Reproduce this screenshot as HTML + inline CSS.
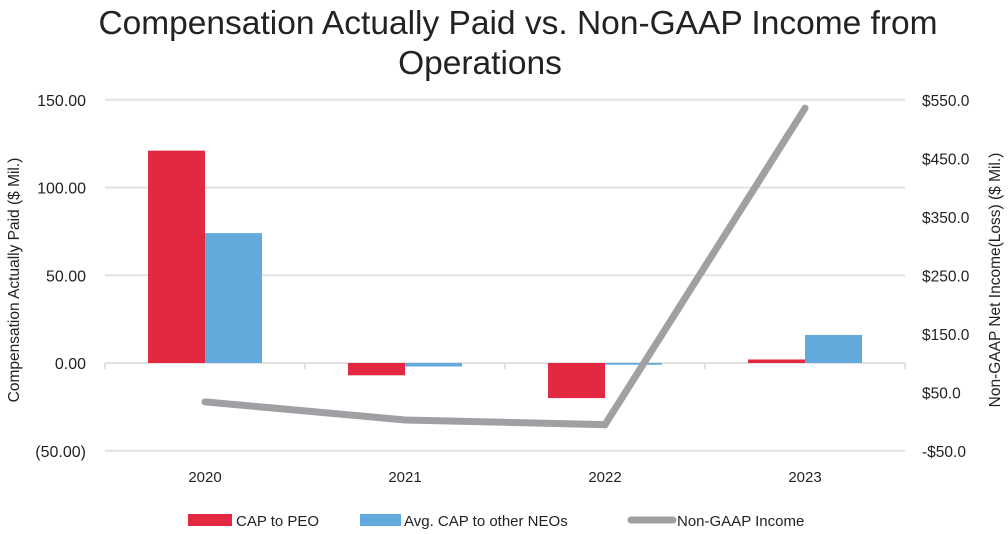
<!DOCTYPE html>
<html><head><meta charset="utf-8"><style>
body{margin:0;background:#fff;}
svg{display:block;font-family:"Liberation Sans",sans-serif;}
</style></head><body>
<svg id="c" width="1008" height="534">
<text x="518" y="34" text-anchor="middle" font-size="33.5" fill="#222">Compensation Actually Paid vs. Non-GAAP Income from</text>
<text x="480" y="74" text-anchor="middle" font-size="33.5" fill="#222">Operations</text>
<text transform="translate(19,280) rotate(-90)" text-anchor="middle" font-size="15.5" fill="#222">Compensation Actually Paid ($ Mil.)</text>
<text transform="translate(1000,280) rotate(-90)" text-anchor="middle" font-size="15.5" fill="#222">Non-GAAP Net Income(Loss) ($ Mil.)</text>
<g id="grid"></g><g id="bars"></g><g id="line"></g><g id="labels"></g>
<g>
<rect x="188" y="514" width="44" height="12" fill="#e32941"/>
<text x="236" y="526" font-size="15" fill="#222">CAP to PEO</text>
<rect x="360" y="514" width="41" height="12" fill="#62a9dc"/>
<text x="404" y="526" font-size="15" fill="#222">Avg. CAP to other NEOs</text>
<line x1="631" y1="520" x2="673" y2="520" stroke="#a0a0a4" stroke-width="7" stroke-linecap="round"/>
<text x="677" y="526" font-size="15" fill="#222">Non-GAAP Income</text>
</g>
</svg>
<script>
const categories=["2020","2021","2022","2023"];
const capPeo=[121,-7,-20,2];
const capNeo=[74,-2,-1,16];
const income=[34,3,-5,536];
const leftTicks=[150,100,50,0,-50];
const leftTickLabels=["150.00","100.00","50.00","0.00","(50.00)"];
const rightTicks=[550,450,350,250,150,50,-50];
const rightTickLabels=["$550.0","$450.0","$350.0","$250.0","$150.0","$50.0","-$50.0"];
const NS="http://www.w3.org/2000/svg";
const X0=105,X1=905,bw=(X1-X0)/categories.length;
const yL=v=>363-(v)*1.755;
const yR=v=>451-(v+50)*0.585;
const xC=i=>X0+bw*(i+0.5);
function mk(t,a,p){const e=document.createElementNS(NS,t);for(const k in a)e.setAttribute(k,a[k]);p.appendChild(e);return e;}
const grid=document.getElementById('grid'),bars=document.getElementById('bars'),line=document.getElementById('line'),labels=document.getElementById('labels');
leftTicks.forEach((v,i)=>{
 const y=yL(v);
 const g=mk('line',{x1:X0,x2:X1,y1:y,y2:y,stroke:'#e2e2e2','stroke-width':2},grid);
 
 
 const t=mk('text',{x:86,y:y+6,'text-anchor':'end','font-size':16,fill:'#222'},labels);
 t.textContent=leftTickLabels[i];
 
 
});
rightTicks.forEach((v,i)=>{
 const t=mk('text',{x:922,y:yR(v)+6,'font-size':15.5,fill:'#222'},labels);
 t.textContent=rightTickLabels[i];
 
 
});
for(let i=0;i<=categories.length;i++){
 const x=X0+bw*i;
 const tk=mk('line',{x1:x,x2:x,y1:yL(0),y2:yL(0)+6,stroke:'#e2e2e2','stroke-width':2},grid);
 
 
}
categories.forEach((c,i)=>{
 const cx=xC(i),w=57;
 [[capPeo[i],cx-w,'#e32941','bar-peo-'+c],[capNeo[i],cx,'#62a9dc','bar-neo-'+c]].forEach(([v,x,col,n])=>{
  const y0=yL(0),y1=yL(v);
  const r=mk('rect',{x:x,y:Math.min(y0,y1),width:w,height:Math.max(1,Math.abs(y1-y0)),fill:col},bars);
  
  
 });
 const t=mk('text',{x:cx,y:482,'text-anchor':'middle','font-size':15,fill:'#222'},labels);
 t.textContent=c;
 
 
});
const pts=income.map((v,i)=>xC(i)+','+yR(v)).join(' ');
const pl=mk('polyline',{points:pts,fill:'none',stroke:'#a0a0a4','stroke-width':7,'stroke-linecap':'round','stroke-linejoin':'miter'},line);


</script>
</body></html>
